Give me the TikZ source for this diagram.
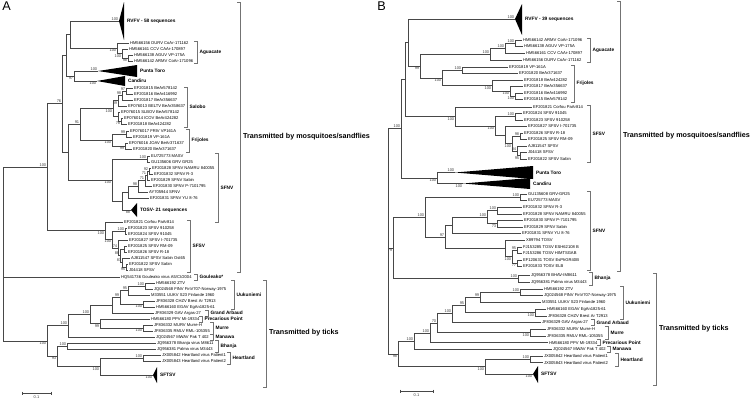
\documentclass[tikz,border=0pt]{standalone}
\usepackage{fontspec}
\setmainfont{Liberation Sans}
\begin{document}
\begin{tikzpicture}[x=0.75pt,y=0.75pt,yscale=-1,xscale=1,
  branch/.style={draw=black!72,line width=0.45pt},
  brace/.style={draw=black!55,line width=0.45pt},
  tri/.style={fill=black},
  leaf/.style={anchor=west,inner sep=0.6pt,font=\fontsize{3.1}{3.6}\selectfont},
  boot/.style={anchor=south east,inner sep=0.4pt,font=\fontsize{3}{3.4}\selectfont,text=black!75},
  bootlow/.style={boot,anchor=north east},
  clade/.style={anchor=west,inner sep=0.6pt,font=\fontsize{3.6}{4}\selectfont\bfseries},
  host/.style={anchor=west,inner sep=0.6pt,font=\fontsize{5.4}{6}\selectfont\bfseries},
  panel/.style={anchor=north west,inner sep=0pt,font=\fontsize{9.5}{10}\selectfont}]
\useasboundingbox (0,0) rectangle (754,400);

%Panel letters
\node[panel] (lettA) at (2,2) {A};
\node[panel] (lettB) at (377,2) {B};

%Panel A: inner nodes and collapsed clade tips
\foreach \n/\px/\py in {ar/3/277, an/47/167.2, ag/62/103.75, a1/66/55.3, ara/70/34.6,
  aag0/117/48.25, aag1/122/53.5, aag2/128/58, apc/74/76, a2/68/152.2, asf/80/124.3,
  asa0/113/108.6, asa1/118/100.75, asa3/122/95.5, asa4/126/91, asa2/118/116.5, asa5/121/121,
  afr0/112/140, afr1/126/134, afr2/125/146,
  asn0/112/180.05, asmg/147/159, asn1/122/201.1, asn2/128/192.2, asn3/138/186.4,
  asn4/145/180.75, asn5/147/175.5, asn6/149/171,
  as0/105/230.7, as1/112/239.4, as2/125/231, as3/118/247.9, as4/120/255.75, as5/124/249,
  as6/122/262.5, as7/126/267,
  at/47/341, au0/68/325.7, au1/90/314.3, aua/112/305.1, aub/120/297.25, auc/128/290.5,
  aue/145/286, aud/143/304, apm/100/323.5, amu/143/328, al0/57/356.25, abh/67/346,
  ahs/100/366.5, ahl/143/358,
  arvf/119/21, apt/98/71, acan/97/81, atos/131/210, asfts/153/375}
  \coordinate (\n) at (\px,\py);

%Panel A: leaves
\foreach \n/\px/\py/\txt in {ldurv/129/43/HM566156 DURV CoAr-171162,
  lccv/128/49/HM566161 CCV CAAr-170897, laguv/133/55/HM566138 AGUV VP-175A,
  larmv/133/61/HM566142 ARMV CoAr-171096,
  l15/133/88/EF201815 BeAr578142, l16/133/94/EF201816 BeAr416992, l17/133/100/EF201817 BeAr356637,
  lbel/127/106/EF076013 BELTV BeAr358637, lslb/120/112/EF076015 SLBOV BeAr578142,
  lico/123/118/EF076014 ICOV BeAr424282, l18/127/124/EF201818 BeAr424282,
  lfri/129/131/EF076017 FRIV VP161A, l19/132/137/EF201819 VP-161A,
  ljoa/128/143/EF076016 JOAV BeAr371637, l20/132/149/EF201820 BeAr371637,
  lmas/150/156/EU725773 MASV, lgrv/150/162/GU135606 GRV GR25,
  l28/151/168/EF201828 SFNV NAMRU 840055, l32/153/174/EF201832 SFNV R-3,
  l29/150/180/EF201829 SFNV Sabin, l30/152/186/EF201830 SFNV P-7101795,
  lay/148/192/AY705944 SFNV, l31/149/198/EF201831 SFNV YU 8-76,
  l21/123/222/EF201821 Corfou PaAr814, l23/127/228/EF201823 SFSV 910258,
  l24/127/234/EF201824 SFSV 91045, l27/128/240/EF201827 SFSV I-701735,
  l25/127/246/EF201825 SFSV RM-09, l26/127/252/EF201826 SFSV R-18,
  laj/130/258/AJ811547 SFSV Sabin Ost65, l22/128/264/EF201822 SFSV Sabin,
  lj04/128/270/J04418 SFSV,
  lztv/155/283/HM566192 ZTV, lfin/153/289/JQ024568 FINV FinV707-Norway-1975,
  luuk/150/295/M33551 UUKV S23 Finlande 1960, lchz/155/301/JF836328 CHZV Brest Ar T2913,
  lega/155/307/HM566160 EGAV EgAn1825-61, lgav/154/313/JF836329 GAV Argas-27,
  lppv/150/319/HM566180 PPV MI-19334, lmur/153/325/JF836332 MURV Murre-H,
  lrml/153/331/JF836335 RMLV RML-105355, lmwa/155/337/JQ024567 MWAV Pak T 402,
  lbha/156/343/JQ956378 Bhanja virus M8611, lpal/156/349/JQ956381 Palma virus M3443,
  lha1/161/355/JX005842 Heartland virus Patient1, lha2/161/361/JX005843 Heartland virus Patient2}
  \node[leaf] (\n) at (\px,\py) {\txt};
\node[leaf] (lgou) at (120,277) {HQ541736 Gouleako virus A5/CI/2004};

%Panel A: branches
\foreach \p/\c in {ar/an, ar/lgou, ar/at, an/ag, an/as0, ag/a1, ag/a2, a1/ara, a1/apc,
  ara/arvf, ara/aag0, aag0/ldurv, aag0/aag1, aag1/lccv, aag1/aag2, aag2/laguv, aag2/larmv,
  apc/apt, apc/acan, a2/asf, a2/asn0, asf/asa0, asf/afr0,
  asa0/asa1, asa0/asa2, asa1/asa3, asa1/lbel, asa3/asa4, asa3/l17, asa4/l15, asa4/l16,
  asa2/lslb, asa2/asa5, asa5/lico, asa5/l18,
  afr0/afr1, afr0/afr2, afr1/lfri, afr1/l19, afr2/ljoa, afr2/l20,
  asn0/asmg, asn0/asn1, asmg/lmas, asmg/lgrv, asn1/asn2, asn1/atos, asn2/asn3, asn2/l31,
  asn3/asn4, asn3/lay, asn4/asn5, asn4/l30, asn5/asn6, asn5/l29, asn6/l28, asn6/l32,
  as0/l21, as0/as1, as1/as2, as1/as3, as2/l23, as2/l24, as3/l27, as3/as4, as4/as5, as4/as6,
  as5/l25, as5/l26, as6/laj, as6/as7, as7/l22, as7/lj04,
  at/au0, at/al0, au0/au1, au0/lmwa, au1/aua, au1/apm, aua/aub, aua/lgav, aub/auc, aub/aud,
  auc/aue, auc/luuk, aue/lztv, aue/lfin, aud/lchz, aud/lega, apm/lppv, apm/amu,
  amu/lmur, amu/lrml, al0/abh, al0/ahs, abh/lbha, abh/lpal, ahs/ahl, ahs/asfts,
  ahl/lha1, ahl/lha2}
  \draw[branch] (\p) |- (\c);

%Panel A: collapsed clades
\foreach \n/\bx/\ya/\yb in {arvf/124/2/40, apt/137/65/77, acan/125/76/86, atos/137/203/217, asfts/157/367/383}
  \fill[tri] (\n) -- (\bx,\ya) -- (\bx,\yb) -- cycle;
\node[clade] (tArvf) at (126,21) {RVFV - 58 sequences};
\node[clade] (tApt) at (139,71) {Punta Toro};
\node[clade] (tAcan) at (127,81) {Candiru};
\node[clade] (tAtos) at (139,210) {TOSV- 21 sequences};
\node[clade] (tAsfts) at (159,375) {SFTSV};

%Panel A: bootstrap values
\foreach \n/\v in {arvf/100, apt/100, ag/76, asf/91, asa3/98, asa4/97, afr1/99, asmg/100,
  asn6/92, asn5/71, asn4/71, asn3/98, as2/100, as3/74, as4/88, as6/87, an/100, au0/100,
  au1/100, aub/99, auc/95, aue/100, abh/100, ahl/100}
  \node[boot] (bv\n) at (\n) {\v};
\foreach \n/\v in {aag0/100, aag1/100, aag2/98, apc/97, acan/100, asa0/100, asa1/89, asa5/78,
  afr0/100, afr2/99, asn0/100, atos/88, as0/100, as1/100, as7/95, at/100, aud/100, apm/99,
  amu/100, al0/93, ahs/100, asfts/100}
  \node[bootlow] (bv\n) at (\n) {\v};

%Panel A: clade brackets
\foreach \n/\bx/\ya/\yb/\txt in {kAgA/197/41/63/Aguacate, kSaA/187/87/127/Salobo,
  kFrA/189/129/152/Frijoles, kSnA/218/153/222/SFNV, kSsA/190/220/272/SFSV,
  kGoA/197/274/280/Gouleako*, kUuA/234/280/309/Uukuniemi, kGaA/208/310/316/Grand Arbaud,
  kPpA/202/316/322/Precarious Point, kMuA/213/322/334/Murre, kMaA/213/334/340/Manawa,
  kBhA/218/340/352/Bhanja, kHeA/230/352/364/Heartland}
  {\draw[brace] (\bx-3,\ya) -- (\bx,\ya) -- (\bx,\yb) -- (\bx-3,\yb);
   \node[clade] (\n) at (\bx+1.5,{(\ya+\yb)/2}) {\txt};}
\draw[brace] (237,2) -- (240,2) -- (240,272) -- (237,272);
\node[host] (hMoA) at (242,137) {Transmitted by mosquitoes/sandflies};
\draw[brace] (263,280) -- (266,280) -- (266,387) -- (263,387);
\node[host] (hTiA) at (268,333) {Transmitted by ticks};

%Panel A: scale bar
\coordinate (scA0) at (22,393);
\coordinate (scA1) at (51,393);
\draw[branch] (scA0) -- (scA1);
\draw[branch] (22,391.5) -- (22,394.5) (51,391.5) -- (51,394.5);
\node[boot,anchor=north] (scAl) at (36.5,395) {0.1};

%Panel B: inner nodes and collapsed clade tips
\foreach \n/\px/\py in {rb/388/247.9, bq2/401/128.75, bq1/405/79.5, bx0/408/42.5, baf/420/66,
  bag0/490/54.05, bag1/505/48.1, bag2/515/43.25, bfe/442/77.95, bfa/462/70.25, bfb/492/85.7,
  bfd/510/91.4, bfc/515/96.25, bs0/455/116.45, bs1/495/125.9, bs2/515/116.75, bs3/505/135.05,
  bs4/512/143.6, bs5/520/136.25, bs6/517/150.9, bs7/520/155.75, bpc/437/178, bsb/393/247.9,
  bn7/425/217.05, bgm/520/197.25, bn6/445/236.85, bn5/452/225.3, bn4/487/217.1,
  bn2/497/210.5, bn3/497/223.75, bt0/505/248.4, bt1/512/256.75, bt2/517/250.25,
  bt3/517/263.25, bbh/518/278.75, bz10/398/353.9, bz9/414/341.1, bz8/430/332.85,
  bz6/437/323.1, bz5/452/313.7, bz4/465/304.9, bz2/480/297.4, bz1/520/292.35,
  bz3/535/312.45, bz7/530/332.55, bh2/485/366.7, bh1/530/359.35,
  brvf/515/19, bpt/455/172.5, bcan/463/183.5, bsfts/533/374}
  \coordinate (\n) at (\px,\py);

%Panel B: leaves
\foreach \n/\px/\py/\txt in {barm/522/40/HM566142 ARMV CoAr-171096,
  bagu/523/46.5/HM566138 AGUV VP-175A, bccv/525/53/HM566161 CCV CAAr-170897,
  bdur/522/60/HM566156 DURV CoAr-171162,
  b19/508/67/EF201819 VP-161A, b20/518/73.5/EF201820 BeAr371637,
  b18/523/80/EF201818 BeAr424282, b17/523/86.5/EF201817 BeAr356637,
  b16/523/93/EF201816 BeAr416992, b15/523/99.5/EF201815 BeAr578142,
  b21/532/107/EF201821 Corfou PaAr814, b24/522/113.5/EF201824 SFSV 91045,
  b23/523/120/EF201823 SFSV 910258, b27/527/126.5/EF201827 SFSV I-701735,
  b26/523/133/EF201826 SFSV R-18, b25/527/139.5/EF201825 SFSV RM-09,
  baj/527/146/AJ811547 SFSV, bj04/527/152.5/J04418 SFSV, b22/527/159/EF201822 SFSV Sabin,
  bgrv/527/194/GU135608 GRV-GR25, bmas/527/200.5/EU725773 MASV,
  b32/522/207/EF201832 SFNV R-3, b28/522/214/EF201828 SFNV NAMRU 840055,
  b30/523/220.5/EF201830 SFNV P-7101795, b29/523/227/EF201829 SFNV Sabin,
  b31/521/233.5/EF201831 SFNV YU 8-76, bx89/525/240/X89794 TOSV,
  bfj5/522/247/FJ153285 TOSV ESH62108 B, bfj6/522/253.5/FJ153286 TOSV HIMTSGAB,
  bef6/522/260/EF120631 TOSV EsPhGR40B, b33/522/266.5/EF201833 TOSV ELB,
  bbha/530/275.5/JQ956378 BHAV-IM8611, bpal/530/282/JQ956381 Palma virus M3443,
  bztv/543/289/HM566192 ZTV, bfin/543/295.7/JQ024568 FINV FinV707-Norway-1975,
  buuk/541/302.4/M33551 UUKV S23 Finlande 1960, bega/546/309.1/HM566160 EGAV EgAn1825-61,
  bchz/547/315.8/JF836328 CHZV Brest Ar T2913, bgav/541/322.5/JF836329 GAV Argas-27,
  bmur/546/329.2/JF836332 MURV Murre-H, brml/546/335.9/JF836335 RMLV RML-105355,
  bppv/548/342.6/HM566180 PPV MI-19334, bmwa/552/349.3/JQ024567 MWAV Pak T 402,
  bha1/543/356/JX005842 Heartland virus Patient1, bha2/543/362.7/JX005843 Heartland virus Patient2}
  \node[leaf] (\n) at (\px,\py) {\txt};

%Panel B: branches
\foreach \p/\c in {rb/bq2, rb/bsb, rb/bz10, bq2/bq1, bq2/bpc, bq1/bx0, bq1/bs0,
  bx0/brvf, bx0/baf, baf/bag0, baf/bfe, bag0/bag1, bag0/bdur, bag1/bag2, bag1/bccv,
  bag2/barm, bag2/bagu, bfe/bfa, bfe/bfb, bfa/b19, bfa/b20, bfb/b18, bfb/bfd, bfd/b17,
  bfd/bfc, bfc/b16, bfc/b15,
  bs0/b21, bs0/bs1, bs1/bs2, bs1/bs3, bs2/b24, bs2/b23, bs3/b27, bs3/bs4, bs4/bs5, bs4/bs6,
  bs5/b26, bs5/b25, bs6/baj, bs6/bs7, bs7/bj04, bs7/b22,
  bpc/bpt, bpc/bcan, bsb/bn7, bsb/bbh,
  bn7/bgm, bn7/bn6, bgm/bgrv, bgm/bmas, bn6/bn5, bn6/bt0, bn5/bn4, bn5/b31, bn4/bn2,
  bn4/bn3, bn2/b32, bn2/b28, bn3/b30, bn3/b29, bt0/bx89, bt0/bt1, bt1/bt2, bt1/bt3,
  bt2/bfj5, bt2/bfj6, bt3/bef6, bt3/b33, bbh/bbha, bbh/bpal,
  bz10/bz9, bz10/bh2, bz9/bz8, bz9/bmwa, bz8/bz6, bz8/bppv, bz6/bz5, bz6/bz7, bz5/bz4,
  bz5/bgav, bz4/bz2, bz4/bz3, bz2/bz1, bz2/buuk, bz1/bztv, bz1/bfin, bz3/bega, bz3/bchz,
  bz7/bmur, bz7/brml, bh2/bh1, bh2/bsfts, bh1/bha1, bh1/bha2}
  \draw[branch] (\p) |- (\c);

%Panel B: collapsed clades
\foreach \n/\bx/\ya/\yb in {brvf/522/4/35, bpt/533/166/179, bcan/530/178/189, bsfts/538/366/383}
  \fill[tri] (\n) -- (\bx,\ya) -- (\bx,\yb) -- cycle;
\node[clade] (tBrvf) at (524,19) {RVFV - 39 sequences};
\node[clade] (tBpt) at (535,172.5) {Punta Toro};
\node[clade] (tBcan) at (532,184) {Candiru};
\node[clade] (tBsfts) at (540,374) {SFTSV};

%Panel B: bootstrap values
\foreach \n/\v in {brvf/100, bag2/100, bag1/100, bag0/100, bfa/100, bs2/100, bs5/98, bs6/84,
  bpt/100, bq2/100, bgm/100, bn2/100, bn4/100, bn7/100, bn6/97, bt2/95, bbh/100, bz1/100,
  bz2/99, bz4/95, bz5/100, bz6/70, bz8/100, bz9/100, bh1/100}
  \node[boot] (bv\n) at (\n) {\v};
\foreach \n/\v in {baf/99, bfe/100, bfb/100, bfd/100, bfc/100, bs0/100, bs1/100, bs4/100,
  bs7/95, bcan/100, bpc/100, bn3/73, bsb/79, bt1/100, bt3/77, bz3/100, bz7/100, bz10/98,
  bh2/100, bsfts/100}
  \node[bootlow] (bv\n) at (\n) {\v};

%Panel B: clade brackets
\foreach \n/\bx/\ya/\yb/\txt in {kAgB/590/38/62/Aguacate, kFrB/574/65/102/Frijoles,
  kSsB/590/105/162/SFSV, kSnB/590/191/270/SFNV, kBhB/592/272/285/Bhanja,
  kUuB/623/286/319/Uukuniemi, kGaB/594/319.5/325.5/Grand Arbaud, kMuB/608/326/339/Murre,
  kPpB/600/339.6/345.6/Precarious Point, kMaB/610/346.3/352.3/Manawa,
  kHeB/618/353/366/Heartland}
  {\draw[brace] (\bx-3,\ya) -- (\bx,\ya) -- (\bx,\yb) -- (\bx-3,\yb);
   \node[clade] (\n) at (\bx+1.5,{(\ya+\yb)/2}) {\txt};}
\draw[brace] (617,1) -- (620,1) -- (620,271) -- (617,271);
\node[host] (hMoB) at (622,136) {Transmitted by mosquitoes/sandflies};
\draw[brace] (653,273) -- (656,273) -- (656,385) -- (653,385);
\node[host] (hTiB) at (658,329) {Transmitted by ticks};

%Panel B: scale bar
\coordinate (scB0) at (400,391);
\coordinate (scB1) at (433,391);
\draw[branch] (scB0) -- (scB1);
\draw[branch] (400,389.5) -- (400,392.5) (433,389.5) -- (433,392.5);
\node[boot,anchor=north] (scBl) at (416.5,393) {0.1};

\end{tikzpicture}
\end{document}
